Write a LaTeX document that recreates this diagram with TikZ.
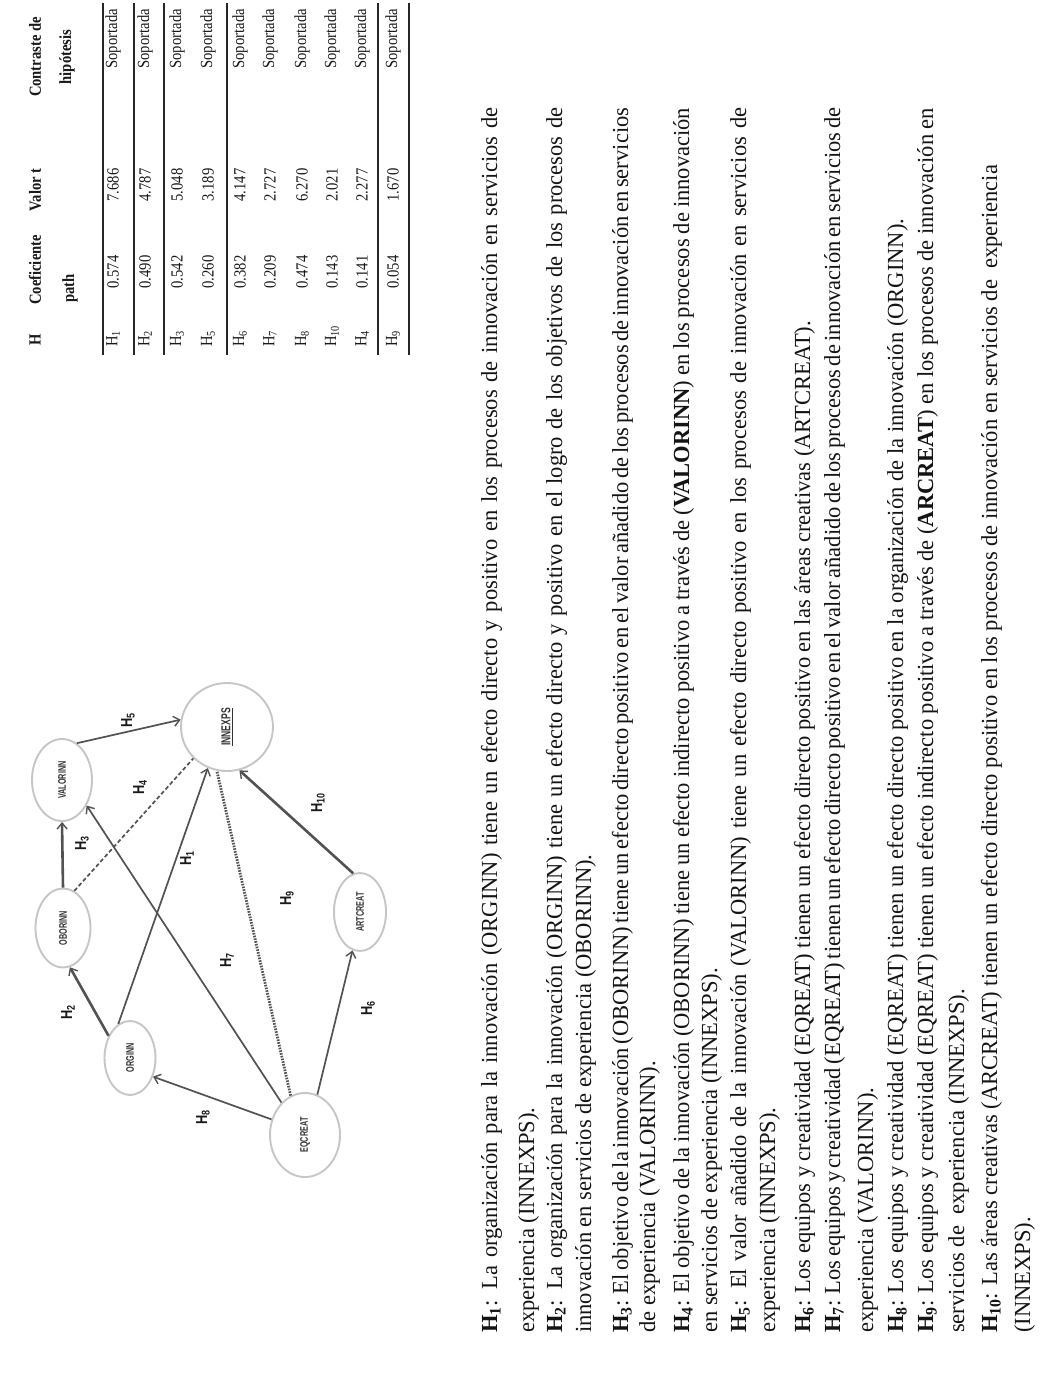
\documentclass[tikz,border=0pt]{standalone}
\usepackage{fontspec}
\setmainfont{Liberation Serif}
\newfontfamily\bodyfont[FakeStretch=0.98]{Liberation Serif}
\newfontfamily\tabfont[FakeStretch=0.86]{Liberation Serif}
\newfontfamily\ndfont[FakeStretch=0.66]{Liberation Sans}
\newfontfamily\hlfont[FakeStretch=0.8]{Liberation Sans}
\usetikzlibrary{shapes.geometric,arrows.meta}
\newcommand\Hs[1]{\textbf{H}\textsubscript{\textbf{#1}}}
\newcommand\jline[1]{{\spaceskip=0.25em plus 1em minus 0.14em\makebox[1225pt][s]{#1}}}
\begin{document}
\begin{tikzpicture}[x=1pt,y=-1pt,
  txtline/.style={rotate=90, anchor=base west, inner sep=0, text=black!92,
    font=\bodyfont\fontsize{23}{28}\selectfont},
  tabtxt/.style={rotate=90, inner sep=0, text=black!90,
    font=\tabfont\fontsize{17}{20}\selectfont},
  tabhead/.style={tabtxt, font=\tabfont\bfseries\fontsize{17}{20}\selectfont},
  rule/.style={line width=1.6pt, black!85},
  ell/.style={ellipse, draw=gray!45, line width=1.9pt, inner sep=0,
    text=black!80, font=\ndfont\bfseries\fontsize{11}{13}\selectfont},
  hlab/.style={rotate=90, inner sep=0, text=black!90,
    font=\hlfont\bfseries\fontsize{16}{18}\selectfont},
  edg/.style={line width=1.7pt, black!68},
  thk/.style={line width=2.6pt},
  arr/.style={-{Straight Barb[length=6pt,width=10pt,line width=1.4pt]}},
  dsh/.style={dash pattern=on 4pt off 2.5pt},
  dotl/.style={dash pattern=on 1.6pt off 1.2pt, line width=2.8pt}
]
\useasboundingbox[fill=white] (0,0) rectangle (1059,1397);

% ---------------- table ----------------
\node[tabhead] (hH) at (35,340) {H};
\node[tabhead, anchor=west] (hC1) at (35,305) {Coeficiente};
\node[tabhead, anchor=west] (hC2) at (70,303) {path};
\node[tabhead] (hV) at (35,190) {Valor t};
\node[tabhead] (hK1) at (35,57) {Contraste de};
\node[tabhead] (hK2) at (67,57) {hipótesis};

\foreach \xx in {103,134,164,227,378,409}
  \draw[rule] (\xx,3) -- (\xx,355);

\foreach \xx/\hn/\cf/\vt in {113/1/0.574/7.686, 145/2/0.490/4.787, 177/3/0.542/5.048,
   208/5/0.260/3.189, 240/6/0.382/4.147, 270/7/0.209/2.727, 302/8/0.474/6.270,
   332/10/0.143/2.021, 362/4/0.141/2.277, 393/9/0.054/1.670}{
  \node[tabtxt, anchor=west] (r\hn h) at (\xx,347) {H\textsubscript{\hn}};
  \node[tabtxt] (r\hn c) at (\xx,272) {\cf};
  \node[tabtxt] (r\hn v) at (\xx,185) {\vt};
  \node[tabtxt, anchor=east] (r\hn s) at (\xx,9) {Soportada};
}

% ---------------- diagram ----------------
\node[ell, minimum width=60pt, minimum height=82pt] (valorinn) at (62,780) {\rotatebox{90}{VALORINN}};
\node[ell, minimum width=92pt, minimum height=88pt] (innexps) at (227,727)
  {\rotatebox{90}{\ndfont\bfseries\fontsize{13}{15}\selectfont\underline{INNEXPS}}};
\node[ell, minimum width=55pt, minimum height=79pt] (oborinn) at (63,928) {\rotatebox{90}{OBORINN}};
\node[ell, minimum width=51pt, minimum height=74pt] (orginn) at (130,1058) {\rotatebox{90}{ORGINN}};
\node[ell, minimum width=52pt, minimum height=78pt] (artcreat) at (360,912) {\rotatebox{90}{ARTCREAT}};
\node[ell, minimum width=70pt, minimum height=84pt] (eqcreat) at (305,1135) {\rotatebox{90}{EQCREAT}};

\draw[edg,arr] (valorinn.68) -- (innexps.171);
\draw[edg,thk,arr] (oborinn.north) -- (valorinn.south);
\draw[edg,dsh] (oborinn.73) -- (innexps.223);
\draw[edg,thk,arr] (orginn.134) -- (oborinn.280);
\draw[edg,arr] (orginn.109) -- (innexps.245);
\draw[edg,arr] (eqcreat.126) -- (valorinn.314);
\draw[edg,dotl] (eqcreat.110) -- (innexps.257);
\draw[edg,arr] (eqcreat.155) -- (orginn.321);
\draw[edg,arr] (eqcreat.73) -- (artcreat.259);
\draw[edg,thk,arr] (artcreat.100) -- (innexps.286);

\node[hlab] (l5) at (128,720) {H\textsubscript{5}};
\node[hlab] (l4) at (140,787) {H\textsubscript{4}};
\node[hlab] (l3) at (82,843) {H\textsubscript{3}};
\node[hlab] (l1) at (187,858) {H\textsubscript{1}};
\node[hlab] (l9) at (287,898) {H\textsubscript{9}};
\node[hlab] (l10) at (318,803) {H\textsubscript{10}};
\node[hlab] (l7) at (227,960) {H\textsubscript{7}};
\node[hlab] (l2) at (68,1012) {H\textsubscript{2}};
\node[hlab] (l6) at (368,1008) {H\textsubscript{6}};
\node[hlab] (l8) at (203,1117) {H\textsubscript{8}};

% ---------------- text ----------------
\node[txtline] (t1) at (497,1333) {\jline{\Hs{1}: La organización para la innovación (ORGINN) tiene un efecto directo y positivo en los procesos de innovación en servicios de}};
\node[txtline] (t2) at (534,1333) {experiencia (INNEXPS).};
\node[txtline] (t3) at (562,1333) {\jline{\Hs{2}: La organización para la innovación (ORGINN) tiene un efecto directo y positivo en el logro de los objetivos de los procesos de}};
\node[txtline] (t4) at (591,1333) {innovación en servicios de experiencia (OBORINN).};
\node[txtline] (t5) at (628,1333) {\jline{\Hs{3}: El objetivo de la innovación (OBORINN) tiene un efecto directo positivo en el valor añadido de los procesos de innovación en servicios}};
\node[txtline] (t6) at (655,1333) {de experiencia (VALORINN).};
\node[txtline] (t7) at (689,1333) {\jline{\Hs{4}: El objetivo de la innovación (OBORINN) tiene un efecto indirecto positivo a través de (\textbf{VALORINN}) en los procesos de innovación}};
\node[txtline] (t8) at (717,1333) {en servicios de experiencia (INNEXPS).};
\node[txtline] (t9) at (746,1333) {\jline{\Hs{5}: El valor añadido de la innovación (VALORINN) tiene un efecto directo positivo en los procesos de innovación en servicios de}};
\node[txtline] (t10) at (775,1333) {experiencia (INNEXPS).};
\node[txtline] (t11) at (810,1333) {\Hs{6}: Los equipos y creatividad (EQREAT) tienen un efecto directo positivo en las áreas creativas (ARTCREAT).};
\node[txtline] (t12) at (840,1333) {\jline{\Hs{7}: Los equipos y creatividad (EQREAT) tienen un efecto directo positivo en el valor añadido de los procesos de innovación en servicios de}};
\node[txtline] (t13) at (873,1333) {experiencia (VALORINN).};
\node[txtline] (t14) at (903,1333) {\Hs{8}: Los equipos y creatividad (EQREAT) tienen un efecto directo positivo en la organización de la innovación (ORGINN).};
\node[txtline] (t15) at (933,1333) {\jline{\Hs{9}: Los equipos y creatividad (EQREAT) tienen un efecto indirecto positivo a través de (\textbf{ARCREAT}) en los procesos de innovación en}};
\node[txtline] (t16) at (964,1333) {servicios de\ \ experiencia (INNEXPS).};
\node[txtline] (t17) at (997,1333) {\Hs{10}: Las áreas creativas (ARCREAT) tienen un efecto directo positivo en los procesos de innovación en servicios de\ \ experiencia};
\node[txtline] (t18) at (1030,1333) {(INNEXPS).};
\end{tikzpicture}
\end{document}
